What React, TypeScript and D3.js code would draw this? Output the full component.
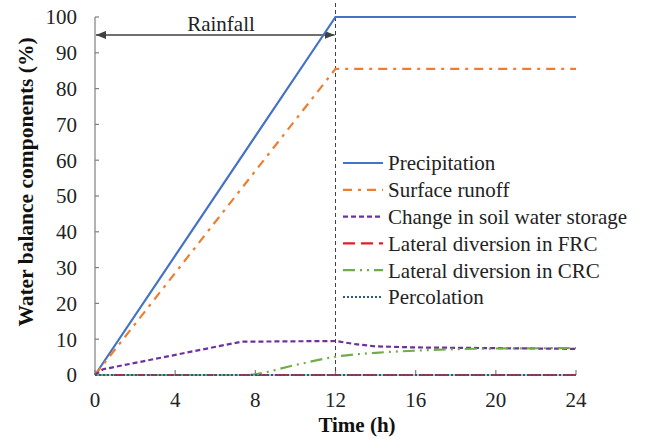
import React from "react";
import * as d3 from "d3";

const xTicks = [0, 4, 8, 12, 16, 20, 24];
const yTicks = [0, 10, 20, 30, 40, 50, 60, 70, 80, 90, 100];

const precipT = [0, 12, 24];
const precipV = [0, 100, 100];
const runoffT = [0, 12, 24];
const runoffV = [0, 85.5, 85.5];
const storageT = [0, 0.4, 7.3, 12, 13, 14, 16, 20, 24];
const storageV = [0, 1.6, 9.3, 9.5, 8.6, 8.0, 7.7, 7.5, 7.3];
const frcT = [0, 24];
const frcV = [0, 0];
const crcT = [0, 7.5, 10, 12, 14, 16, 18, 20, 24];
const crcV = [0, 0, 2.8, 5.1, 6.2, 6.8, 7.2, 7.4, 7.5];
const percT = [0, 24];
const percV = [0, 0];

const seriesNames = [
  "Precipitation",
  "Surface runoff",
  "Change in soil water storage",
  "Lateral diversion in FRC",
  "Lateral diversion in CRC",
  "Percolation",
];

const styles = [
  { color: "#4472C4", dash: "", curve: d3.curveLinear },
  { color: "#ED7D31", dash: "9,6,3,6", curve: d3.curveLinear },
  { color: "#7030A0", dash: "5,3", curve: d3.curveLinear },
  { color: "#E02020", dash: "12,6", curve: d3.curveLinear },
  { color: "#70AD47", dash: "12,5,2,5,2,5", curve: d3.curveMonotoneX },
  { color: "#2F5597", dash: "2,2", curve: d3.curveLinear },
];

const seriesT = [precipT, runoffT, storageT, frcT, crcT, percT];
const seriesV = [precipV, runoffV, storageV, frcV, crcV, percV];

export default function App() {
  const W = 648, H = 439;
  const x = d3.scaleLinear().domain([0, 24]).range([95, 576]);
  const y = d3.scaleLinear().domain([0, 100]).range([375, 17]);
  const font = "Liberation Serif, Times New Roman, Times, serif";
  const fs = 21;

  return (
    <svg width={W} height={H} style={{ position: "absolute", left: 0, top: 0, background: "#fff", fontFamily: font }}>
      <defs>
        <marker id="arr" viewBox="0 0 10 10" refX="10" refY="5" markerWidth="10" markerHeight="8" orient="auto-start-reverse" markerUnits="userSpaceOnUse" preserveAspectRatio="none">
          <path d="M0,0 L10,5 L0,10 z" fill="#404040" />
        </marker>
      </defs>
      <rect width={W} height={H} fill="#fff" />
      {/* axes */}
      <line x1={x(0)} x2={x(0)} y1={y(100)} y2={y(0)} stroke="#7f7f7f" strokeWidth={1.2} />
      <line x1={x(0)} x2={x(24)} y1={y(0)} y2={y(0)} stroke="#7f7f7f" strokeWidth={1.2} />
      {yTicks.map((t) => (
        <g key={"y" + t}>
          <line x1={x(0)} x2={x(0) + 4} y1={y(t)} y2={y(t)} stroke="#7f7f7f" strokeWidth={1.2} />
          <text x={77} y={y(t)} dy="0.35em" textAnchor="end" fontSize={fs} fill="#222" style={{ fontFamily: font }}>{t}</text>
        </g>
      ))}
      {xTicks.map((t) => (
        <g key={"x" + t}>
          <line x1={x(t)} x2={x(t)} y1={y(0)} y2={y(0) - 5} stroke="#7f7f7f" strokeWidth={1.2} />
          <text x={x(t)} y={400} dy="0.35em" textAnchor="middle" fontSize={fs} fill="#222" style={{ fontFamily: font }}>{t}</text>
        </g>
      ))}
      <text x={357} y={432} textAnchor="middle" fontSize={fs} fontWeight="bold" fill="#111" style={{ fontFamily: font }}>Time (h)</text>
      <text transform={`translate(33,182) rotate(-90)`} textAnchor="middle" fontSize={21.5} fontWeight="bold" fill="#111" style={{ fontFamily: font }}>Water balance components (%)</text>

      {/* rainfall marker */}
      <line x1={x(12)} x2={x(12)} y1={3} y2={y(0)} stroke="#404040" strokeWidth={1} strokeDasharray="4,3" />
      <line x1={x(0) + 1} x2={x(12) - 1} y1={y(95)} y2={y(95)} stroke="#404040" strokeWidth={1.5} markerStart="url(#arr)" markerEnd="url(#arr)" />
      <text x={221} y={31} textAnchor="middle" fontSize={fs} fill="#222" style={{ fontFamily: font }}>Rainfall</text>

      {/* series */}
      {seriesNames.map((n, i) => {
        const pts = seriesT[i].map((t, j) => [t, seriesV[i][j]] as [number, number]);
        const line = d3.line<[number, number]>().x((d) => x(d[0])).y((d) => y(d[1])).curve(styles[i].curve);
        return (
          <path key={n} d={line(pts) || ""} fill="none" stroke={styles[i].color} strokeWidth={2.2} strokeDasharray={styles[i].dash} />
        );
      })}

      {/* legend */}
      {seriesNames.map((n, i) => {
        const ly = 163 + i * 26.8;
        return (
          <g key={"l" + n}>
            <line x1={343} x2={383} y1={ly} y2={ly} stroke={styles[i].color} strokeWidth={2.2} strokeDasharray={styles[i].dash} />
            <text x={388} y={ly} dy="0.35em" fontSize={fs} fill="#222" style={{ fontFamily: font }}>{n}</text>
          </g>
        );
      })}
    </svg>
  );
}
